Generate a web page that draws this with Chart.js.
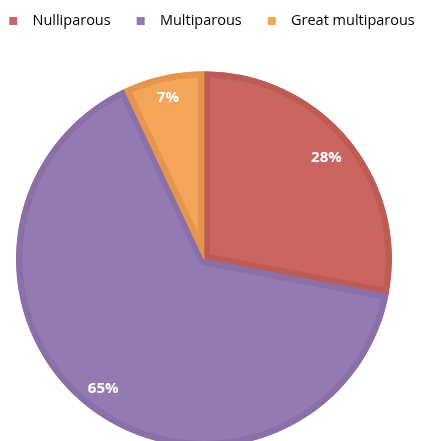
<!DOCTYPE html>
<html>
<head>
<meta charset="utf-8">
<script src="https://cdn.jsdelivr.net/npm/chart.js@4/dist/chart.umd.min.js"></script>
<style>
  html, body { margin: 0; padding: 0; overflow: hidden; background: #fff; width: 422px; height: 441px; }
  #wrap { position: absolute; left: -36px; top: 0; width: 480px; height: 480px; }
</style>
</head>
<body>
<div id="wrap"><canvas id="pie-canvas"></canvas></div>
<script>
const categories = ['Nulliparous', 'Multiparous', 'Great multiparous'];
const shares = [28, 65, 7];
const fills = ['#cb6561', '#937bb2', '#f3a65a'];
const edges = ['#bd5b57', '#8a6fa8', '#e5964c'];

// how far out along the radius each percentage sits
const labelDepth = [0.845, 0.875, 0.88];

// legend marker: small square with some blank room on its left,
// so the items sit further apart like the original
const legendMarker = (color) => {
  const c = document.createElement('canvas');
  c.width = 32;
  c.height = 8;
  const g = c.getContext('2d');
  g.fillStyle = color;
  g.fillRect(16, 0, 8, 8);
  return c;
};

const sliceLabels = {
  id: 'sliceLabels',
  afterDatasetsDraw(chart) {
    const { ctx } = chart;
    const meta = chart.getDatasetMeta(0);
    ctx.save();
    ctx.fillStyle = '#ffffff';
    ctx.font = 'bold 15px "Open Sans", sans-serif';
    ctx.textAlign = 'center';
    ctx.textBaseline = 'middle';
    meta.data.forEach((arc, i) => {
      const { x, y, startAngle, endAngle, outerRadius } = arc.getProps(['x', 'y', 'startAngle', 'endAngle', 'outerRadius'], true);
      const mid = (startAngle + endAngle) / 2;
      const r = outerRadius * labelDepth[i];
      ctx.fillText(shares[i] + '%', x + Math.cos(mid) * r, y + Math.sin(mid) * r);
    });
    ctx.restore();
  },
};

new Chart(document.getElementById('pie-canvas').getContext('2d'), {
  type: 'pie',
  data: {
    labels: categories,
    datasets: [
      {
        data: shares,
        backgroundColor: fills,
        borderColor: edges,
        borderWidth: 6,
        borderAlign: 'inner',
        radius: 188,
        hoverOffset: 0,
      },
    ],
  },
  options: {
    responsive: true,
    maintainAspectRatio: false,
    animation: false,
    layout: { padding: { top: 4, left: 0, right: 0, bottom: 0 } },
    plugins: {
      tooltip: { enabled: false },
      legend: {
        position: 'top',
        labels: {
          usePointStyle: true,
          pointStyleWidth: 32,
          boxHeight: 8,
          padding: 10,
          color: '#222',
          font: { family: '"Open Sans", sans-serif', size: 14.5 },
          generateLabels: () =>
            categories.map((name, i) => ({
              text: name,
              fillStyle: fills[i],
              strokeStyle: fills[i],
              lineWidth: 0,
              pointStyle: legendMarker(fills[i]),
              index: i,
            })),
        },
      },
    },
  },
  plugins: [sliceLabels],
});
</script>
</body>
</html>
